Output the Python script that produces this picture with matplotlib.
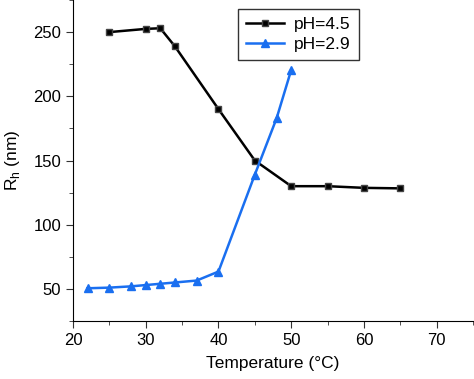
import matplotlib.pyplot as plt
from matplotlib.ticker import MultipleLocator

plt.rcParams['font.family'] = ['Liberation Sans', 'DejaVu Sans']

temp_45 = [25, 30, 32, 34, 40, 45, 50, 55, 60, 65]
rh_45 = [250, 252.5, 253, 239, 190, 150, 130, 130, 128.7, 128.3]

temp_29 = [22, 25, 28, 30, 32, 34, 37, 40, 45, 48, 50]
rh_29 = [50.5, 51, 52, 53, 54, 55, 56.5, 63.5, 139, 183, 220.5]

fig = plt.figure(figsize=(4.74, 3.79), dpi=100)
ax = fig.add_axes([0.154, 0.153, 0.844, 0.847])

ax.plot(temp_45, rh_45, color='black', lw=1.8, marker='s', ms=5,
        mfc='black', mec='#444444', label='pH=4.5')
ax.plot(temp_29, rh_29, color='#1a6ff0', lw=1.8, marker='^', ms=6,
        label='pH=2.9')

ax.set_xlim(20, 75)
ax.set_ylim(25, 275)
ax.xaxis.set_minor_locator(MultipleLocator(5))
ax.yaxis.set_minor_locator(MultipleLocator(25))
ax.set_xticks([20, 30, 40, 50, 60, 70])
ax.set_yticks([50, 100, 150, 200, 250])
ax.tick_params(which='major', direction='out', length=5, labelsize=12, color='#333333')
ax.tick_params(which='minor', direction='out', length=3, color='#333333')
ax.spines['top'].set_visible(False)
ax.spines['right'].set_visible(False)

ax.set_xlabel('Temperature (°C)', fontsize=12.5, labelpad=6)
ax.set_ylabel('R$_\\mathregular{h}$ (nm)', fontsize=12.5, labelpad=8)

ax.legend(loc='upper left', bbox_to_anchor=(0.412, 0.972), fontsize=12.5,
          frameon=True, fancybox=False, edgecolor='black', handlelength=2.2,
          handletextpad=0.6, borderpad=0.45, labelspacing=0.3,
          borderaxespad=0)

fig.savefig('out.png', dpi=100)
